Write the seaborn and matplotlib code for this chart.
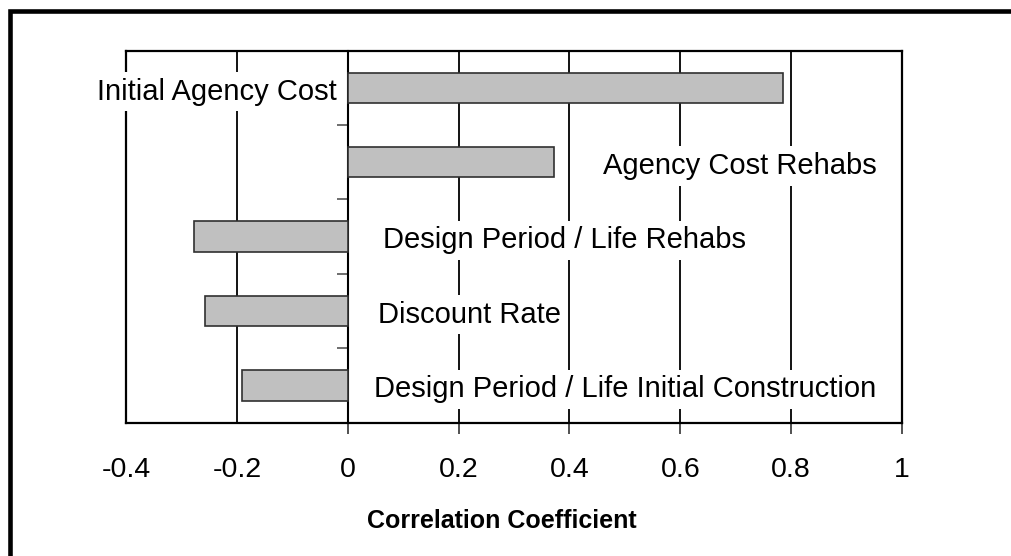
import matplotlib
matplotlib.use("Agg")
import matplotlib.pyplot as plt
from matplotlib.patches import Rectangle
import seaborn as sns
import pandas as pd

# Sensitivity of life-cycle cost to each input
factors = [
    "Initial Agency Cost",
    "Agency Cost Rehabs",
    "Design Period / Life Rehabs",
    "Discount Rate",
    "Design Period / Life Initial Construction",
]
correlation = [0.785, 0.372, -0.278, -0.258, -0.190]
x_ticks = [-0.4, -0.2, 0, 0.2, 0.4, 0.6, 0.8, 1]
x_tick_labels = ["-0.4", "-0.2", "0", "0.2", "0.4", "0.6", "0.8", "1"]

df = pd.DataFrame({"factor": factors, "r": correlation})

sns.set_theme(style="white")
plt.rcParams["font.family"] = ["Liberation Sans", "DejaVu Sans"]
plt.rcParams["text.color"] = "black"
plt.rcParams["xtick.color"] = "black"
plt.rcParams["xtick.labelcolor"] = "black"

fig = plt.figure(figsize=(10.11, 5.56), dpi=100)
ax = fig.add_axes([0.1246, 0.2401, 0.8922 - 0.1246, 0.9088 - 0.2401])

sns.barplot(data=df, y="factor", x="r", orient="h", ax=ax, width=0.41,
            color="#C0C0C0", saturation=1, edgecolor="#303030", linewidth=1.2,
            zorder=3)

xmin, xmax = x_ticks[0], x_ticks[-1]
ax.set_xlim(xmin, xmax)
ax.set_ylim(len(factors) - 0.5, -0.5)
ax.set_xticks(x_ticks)
ax.set_xticklabels(x_tick_labels, fontsize=20.5, color="black")
ax.set_yticks([])
ax.set_ylabel("")
ax.set_xlabel("")

# vertical gridlines
ax.set_axisbelow(True)
ax.grid(axis="x", color="black", linewidth=1.3)
ax.grid(axis="y", visible=False)

for side in ["left", "right", "top", "bottom"]:
    ax.spines[side].set_visible(True)
    ax.spines[side].set_color("black")
    ax.spines[side].set_linewidth(1.6)

ax.tick_params(axis="x", direction="out", length=8, width=1.2, color="#333333",
               pad=17, bottom=True, top=False)
for t in ax.xaxis.get_major_ticks():
    if t.get_loc() < 0:
        t.tick1line.set_visible(False)

# category axis crossing at zero, with ticks between categories
zero_loc = (0 - xmin) / (xmax - xmin)
cat_axis = ax.secondary_yaxis(zero_loc)
cat_axis.set_yticks([i + 0.5 for i in range(len(factors) - 1)])
cat_axis.set_yticklabels([])
cat_axis.tick_params(axis="y", direction="out", length=8, width=1.2,
                     color="#555555")
cat_axis.spines["left"].set_color("black")
cat_axis.spines["left"].set_linewidth(1.5)

# factor names written inside the plot area
box = dict(facecolor="white", edgecolor="none", pad=4)
label_pos = [(-0.019, "right"), (0.46, "left"), (0.0635, "left"),
             (0.055, "left"), (0.048, "left")]
for i, (name, (xp, ha)) in enumerate(zip(factors, label_pos)):
    ax.text(xp, i + 0.05, name, ha=ha, va="center", fontsize=21,
            color="black", bbox=box, zorder=5, clip_on=False)

# axis title
fig.text(367 / 1011, 1 - 520.5 / 556, "Correlation Coefficient",
         ha="left", va="center", fontsize=18, fontweight="bold",
         color="black")

# outer frame
fig.add_artist(Rectangle((9.5 / 1011, -0.2), 1.5, 1.2 - 11 / 556,
                         transform=fig.transFigure, fill=False,
                         edgecolor="black", linewidth=3.3, clip_on=False))

fig.savefig("out.png", dpi=100)
